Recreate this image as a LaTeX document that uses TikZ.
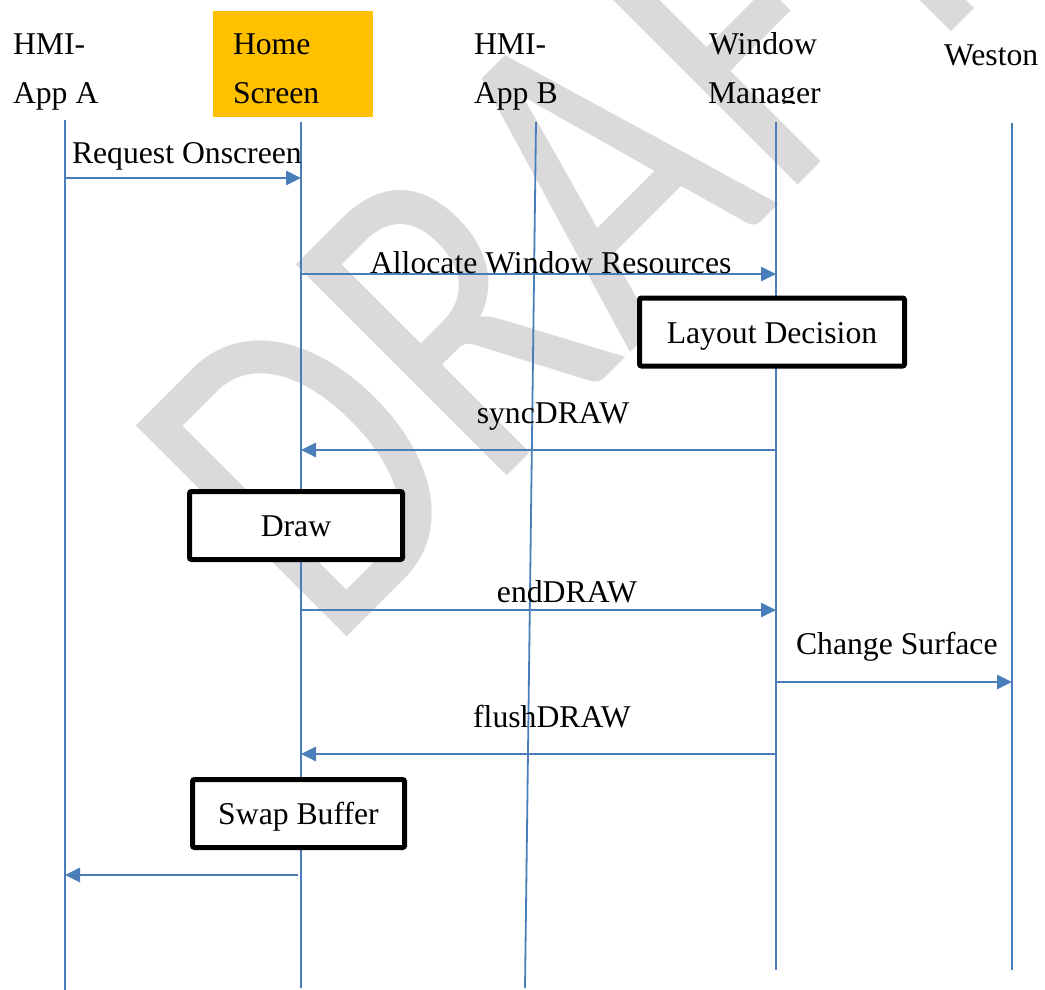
\documentclass[tikz,border=0pt]{standalone}
\usepackage{fontspec}
\setmainfont{Liberation Serif}
\newfontfamily\wmfont{Carlito}
\usetikzlibrary{arrows.meta}
\definecolor{lifeblue}{RGB}{74,126,187}
\definecolor{hsorange}{RGB}{255,192,0}
\definecolor{wmgray}{RGB}{218,218,218}
\begin{document}
\begin{tikzpicture}[x=1pt,y=-1pt,
  every node/.style={inner sep=0pt, outer sep=0pt},
  lbl/.style={font=\fontsize{31.7}{38}\selectfont},
  lifeline/.style={draw=lifeblue, line width=1.8pt},
  msg/.style={draw=lifeblue, line width=2.8pt, -{Triangle[length=15pt,width=14pt]}},
  actbox/.style={draw=black, line width=5pt, fill=white, rounded corners=2pt,
    minimum height=68pt, text height=22pt, text depth=0pt, lbl},
  wm/.style={text=wmgray, font=\wmfont\fontsize{465}{465}\selectfont}
]
\useasboundingbox (0,0) rectangle (1045,990);
\fill[white] (0,0) rectangle (1045,990);

% watermark
\node[wm, rotate=45, anchor=base west] (wm) at (329,654) {\scalebox{0.79}[1]{DRAFT}};

% header
\node[fill=hsorange, minimum width=160pt, minimum height=106pt, anchor=north west] (hsbox) at (213,11) {};
\node[lbl, anchor=base west] (ha1) at (13,55) {HMI-};
\node[lbl, anchor=base west] (ha2) at (13,103) {App A};
\node[lbl, anchor=base west] (hh1) at (233,55) {Home};
\node[lbl, anchor=base west] (hh2) at (233,103) {Screen};
\node[lbl, anchor=base west] (hb1) at (474,55) {HMI-};
\node[lbl, anchor=base west] (hb2) at (474,103) {App B};
\node[lbl, anchor=base west] (hw1) at (709,55) {Window};
\begin{scope}
  \clip (700,60) rectangle (860,104);
  \node[lbl, anchor=base west] (hw2) at (708,103) {Manager};
\end{scope}
\node[lbl, anchor=base west] (hs1) at (944,66) {Weston};

% lifelines
\coordinate (A1) at (65,120);   \coordinate (A2) at (65,990);
\coordinate (H1) at (301,122);  \coordinate (H2) at (301,988);
\coordinate (B1) at (536,122);  \coordinate (B2) at (525,988);
\coordinate (W1) at (776,122);  \coordinate (W2) at (776,970);
\coordinate (S1) at (1012,123); \coordinate (S2) at (1012,970);
\draw[lifeline] (A1) -- (A2);
\draw[lifeline] (H1) -- (H2);
\draw[lifeline] (B1) -- (B2);
\draw[lifeline] (W1) -- (W2);
\draw[lifeline] (S1) -- (S2);

% messages
\coordinate (m1a) at (65,178);  \coordinate (m1b) at (301,178);
\coordinate (m2a) at (301,274); \coordinate (m2b) at (776,274);
\coordinate (m3a) at (776,450); \coordinate (m3b) at (301,450);
\coordinate (m4a) at (301,610); \coordinate (m4b) at (776,610);
\coordinate (m5a) at (776,682); \coordinate (m5b) at (1012,682);
\coordinate (m6a) at (776,754); \coordinate (m6b) at (301,754);
\coordinate (m7a) at (298,875); \coordinate (m7b) at (65,875);
\draw[msg] (m1a) -- (m1b);
\draw[msg] (m2a) -- (m2b);
\draw[msg] (m3a) -- (m3b);
\draw[msg] (m4a) -- (m4b);
\draw[msg] (m5a) -- (m5b);
\draw[msg] (m6a) -- (m6b);
\draw[msg] (m7a) -- (m7b);

% labels
\node[lbl, anchor=base west] (t1) at (72,163) {Request Onscreen};
\node[lbl, anchor=base west] (t2) at (370,273) {Allocate Window Resources};
\node[lbl, anchor=base] (t3) at (553,423) {syncDRAW};
\node[lbl, anchor=base] (t4) at (567,602) {endDRAW};
\node[lbl, anchor=base west] (t5) at (796,654) {Change Surface};
\node[lbl, anchor=base] (t6) at (552,727) {flushDRAW};

% activity boxes
\node[actbox, minimum width=265pt] (layout) at (772,332) {Layout Decision};
\node[actbox, minimum width=213pt] (drawbox) at (296,525.5) {Draw};
\node[actbox, minimum width=212pt] (swap) at (298.5,813.5) {Swap Buffer};
\end{tikzpicture}
\end{document}
